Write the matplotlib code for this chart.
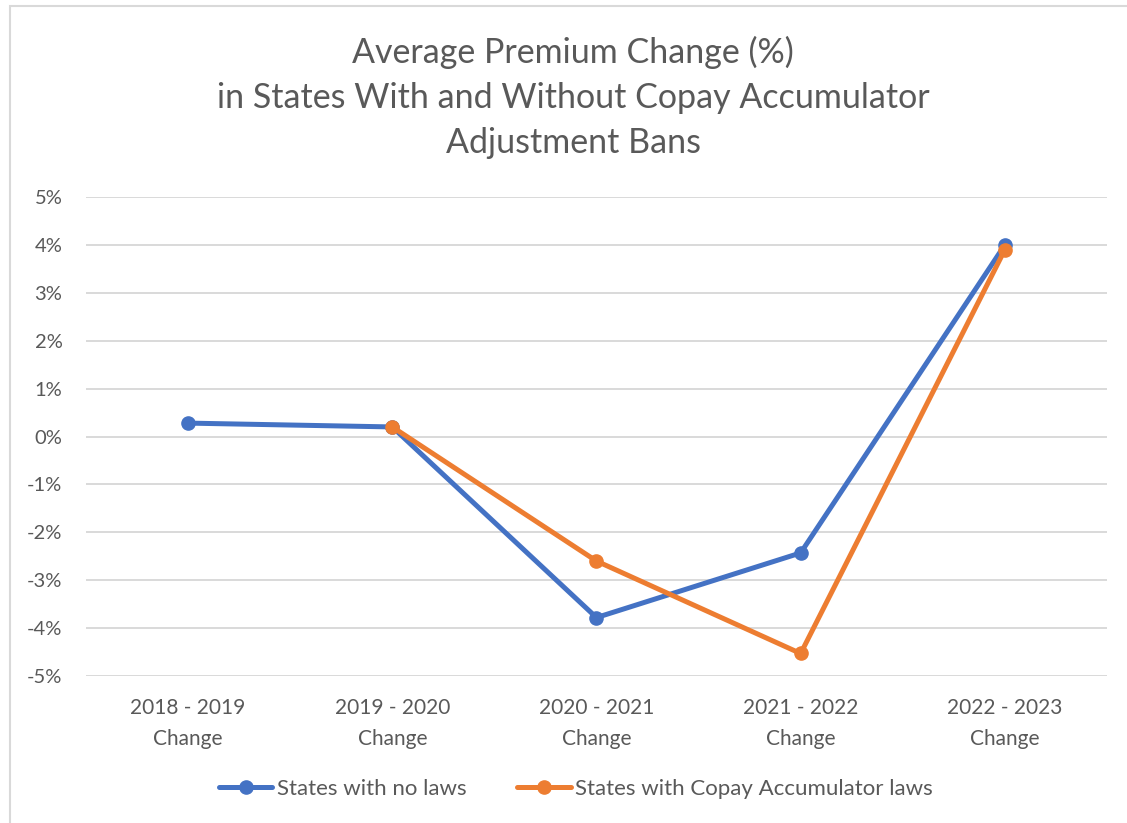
import matplotlib.pyplot as plt
import numpy as np
from matplotlib.patches import Rectangle

plt.rcParams['font.family'] = ['Lato', 'DejaVu Sans']

# chart data
categories = ['2018 - 2019\nChange', '2019 - 2020\nChange', '2020 - 2021\nChange',
              '2021 - 2022\nChange', '2022 - 2023\nChange']
no_laws = [0.28, 0.20, -3.78, -2.43, 4.00]
copay_laws = [np.nan, 0.20, -2.60, -4.53, 3.90]
y_ticks = [-5, -4, -3, -2, -1, 0, 1, 2, 3, 4, 5]

text_col = '#595959'
blue = '#4472C4'
orange = '#ED7D31'

fig = plt.figure(figsize=(11.27, 8.23), dpi=100)
ax = fig.add_axes([0.0763, 0.1786, 0.9059, 0.582])

x = np.arange(len(categories))
ax.plot(x, no_laws, color=blue, lw=3.6, marker='o', ms=9.5, label='States with no laws',
        solid_joinstyle='round', solid_capstyle='round', zorder=3)
ax.plot(x, copay_laws, color=orange, lw=3.6, marker='o', ms=9.5,
        label='States with Copay Accumulator laws',
        solid_joinstyle='round', solid_capstyle='round', zorder=4)

ax.set_xlim(-0.5, len(categories) - 0.5)
ax.set_ylim(-5, 5)
ax.set_yticks(y_ticks)
ax.set_yticklabels([f'{v}%' for v in y_ticks])
ax.set_xticks(x)
ax.set_xticklabels(categories, linespacing=1.7)
ax.tick_params(axis='both', length=0, labelcolor=text_col)
ax.tick_params(axis='y', pad=17, labelsize=14.5)
ax.tick_params(axis='x', pad=16, labelsize=15)
ax.grid(axis='y', color='#D9D9D9', lw=1.4)
ax.set_axisbelow(True)
for s in ax.spines.values():
    s.set_visible(False)

fig.text(0.5085, 1 - 97 / 823,
         'Average Premium Change (%)\nin States With and Without Copay Accumulator\nAdjustment Bans',
         ha='center', va='center', fontsize=24.5, color=text_col, linespacing=1.5)

ax.legend(loc='center', bbox_to_anchor=(0.511, 1 - 789 / 823), bbox_transform=fig.transFigure,
          ncol=2, frameon=False, fontsize=16, labelcolor=text_col,
          handlelength=2.4, handletextpad=0.2, columnspacing=2.3, numpoints=1)

# outer chart border
fig.patches.append(Rectangle((10 / 1127, -0.1), 1.2, 1.1 - 6 / 823, transform=fig.transFigure,
                             fill=False, edgecolor='#D9D9D9', lw=1.5, figure=fig))

fig.savefig('out.png', dpi=100)
